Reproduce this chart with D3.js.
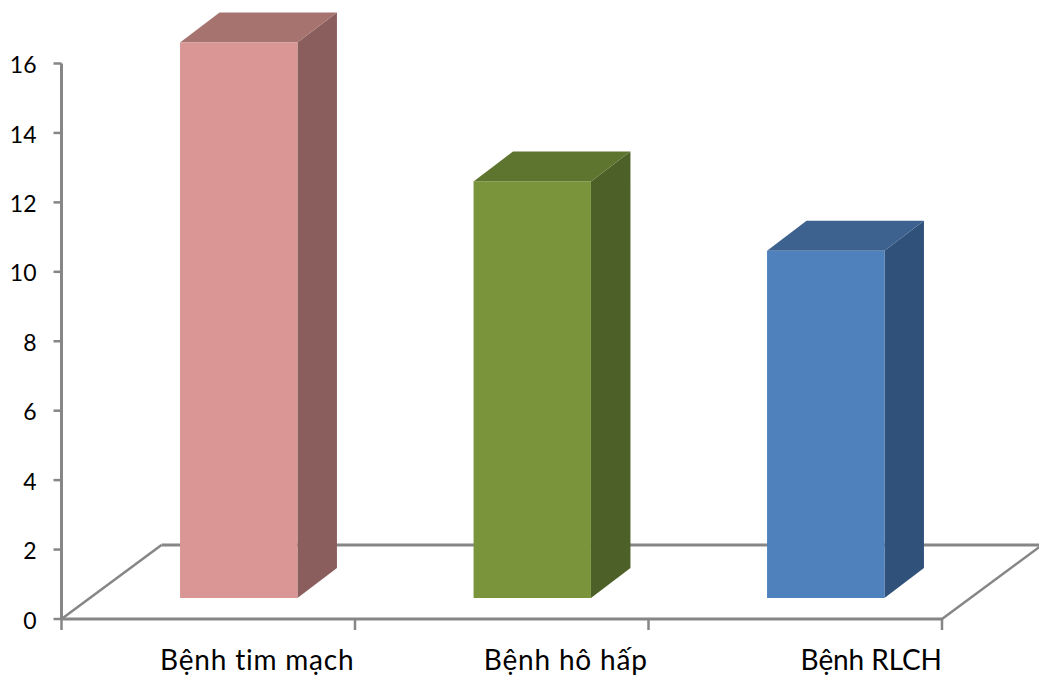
<!DOCTYPE html>
<html>
<head>
<meta charset="utf-8">
<script src="https://cdn.jsdelivr.net/npm/d3@7/dist/d3.min.js"></script>
<style>
  html, body { margin: 0; padding: 0; background: #fff; }
  svg { display: block; }
  text { font-family: Lato, "Open Sans", sans-serif; fill: #000; }
</style>
</head>
<body>
<div id="chart"></div>
<script>
// Chart content
const categories = ["Bệnh tim mạch", "Bệnh hô hấp", "Bệnh RLCH"];
const values = [16, 12, 10];
const yTicks = [0, 2, 4, 6, 8, 10, 12, 14, 16];
const frontColors = ["#D99694", "#7A943B", "#4F81BD"];
const sideColors = ["#8B5E5E", "#4C6027", "#30517A"];
const topColors = ["#A6736F", "#5E7530", "#3D6290"];

// Layout
const width = 1039, height = 677;
const axisLine = "#868686";
const plot = { left: 61.5, right: 942, zero: 619, top: 63.5 };
const floorDepth = { dx: 100, dy: -74 };   // floor parallelogram offset
const barDepth = { dx: 39.5, dy: -30 };    // extrusion of each column
const barLift = 21;                        // front face sits this far above the axis line
const barShift = 30.5;                     // columns stand forward-right of the band centre
const labelShift = [49, 64, 76];
const labelSpacing = [0.8, 0.8, -0.1];

const svg = d3.select("#chart").append("svg")
  .attr("width", width).attr("height", height)
  .attr("viewBox", [0, 0, width, height]);

const y = d3.scaleLinear().domain([0, 16]).range([plot.zero, plot.top]);
const x = d3.scaleBand().domain(categories).range([plot.left, plot.right]).paddingInner(0).paddingOuter(0);
const barWidth = x.bandwidth() * 0.4;

// Floor behind the columns
const floorPts = [
  [plot.left, plot.zero],
  [plot.left + floorDepth.dx, plot.zero + floorDepth.dy],
  [plot.right + floorDepth.dx, plot.zero + floorDepth.dy],
  [plot.right, plot.zero]
];
[[0, 1, 2.5], [1, 2, 3], [2, 3, 2.5]].forEach(([a, b, w]) => {
  svg.append("line")
    .attr("x1", floorPts[a][0]).attr("y1", floorPts[a][1])
    .attr("x2", floorPts[b][0]).attr("y2", floorPts[b][1])
    .attr("stroke", axisLine).attr("stroke-width", w);
});

// Value axis
const yAxis = svg.append("g")
  .attr("transform", `translate(${plot.left},0)`)
  .call(d3.axisLeft(y).offset(0).tickValues(yTicks).tickSize(8).tickSizeOuter(0).tickPadding(17));
yAxis.select(".domain").attr("stroke", axisLine).attr("stroke-width", 3);
yAxis.selectAll(".tick line").attr("stroke", axisLine).attr("stroke-width", 2.5);
yAxis.selectAll(".tick text")
  .style("font-size", "23px").style("font-family", "Lato")
  .attr("fill", "#000").attr("dy", "0.42em");

// Category axis: tick marks fall on band edges, labels sit under the columns
const edges = categories.map(c => x(c)).concat(plot.right);
const edgeScale = d3.scaleLinear().domain([plot.left, plot.right]).range([plot.left, plot.right]);
const xAxis = svg.append("g")
  .attr("transform", `translate(0,${plot.zero})`)
  .call(d3.axisBottom(edgeScale).offset(0).tickValues(edges).tickSize(11).tickSizeOuter(0).tickFormat(""));
xAxis.select(".domain").attr("stroke", axisLine).attr("stroke-width", 3);
xAxis.selectAll(".tick line").attr("stroke", axisLine).attr("stroke-width", 2.5);

svg.append("g").selectAll("text").data(categories).join("text")
  .attr("x", (c, i) => x(c) + x.bandwidth() / 2 + labelShift[i])
  .attr("y", 670)
  .attr("text-anchor", "middle")
  .style("font-size", "28px")
  .style("letter-spacing", (c, i) => `${labelSpacing[i]}px`)
  .text(c => c);

// Columns: side, top, then front face
const rows = categories.map((c, i) => {
  const x0 = x(c) + (x.bandwidth() - barWidth) / 2 + barShift;
  const x1 = x0 + barWidth;
  const base = plot.zero - barLift;
  const t = y(values[i]) - barLift;
  return { i, x0, x1, base, t };
});
const poly = pts => pts.map(p => p.join(",")).join(" ");
const bars = svg.append("g").selectAll("g").data(rows).join("g");
bars.append("polygon")
  .attr("fill", d => sideColors[d.i])
  .attr("points", d => poly([
    [d.x1, d.base], [d.x1 + barDepth.dx, d.base + barDepth.dy],
    [d.x1 + barDepth.dx, d.t + barDepth.dy], [d.x1, d.t]
  ]));
bars.append("polygon")
  .attr("fill", d => topColors[d.i])
  .attr("points", d => poly([
    [d.x0, d.t], [d.x0 + barDepth.dx, d.t + barDepth.dy],
    [d.x1 + barDepth.dx, d.t + barDepth.dy], [d.x1, d.t]
  ]));
bars.append("rect")
  .attr("fill", d => frontColors[d.i])
  .attr("x", d => d.x0).attr("y", d => d.t)
  .attr("width", d => d.x1 - d.x0).attr("height", d => d.base - d.t);
</script>
</body>
</html>
